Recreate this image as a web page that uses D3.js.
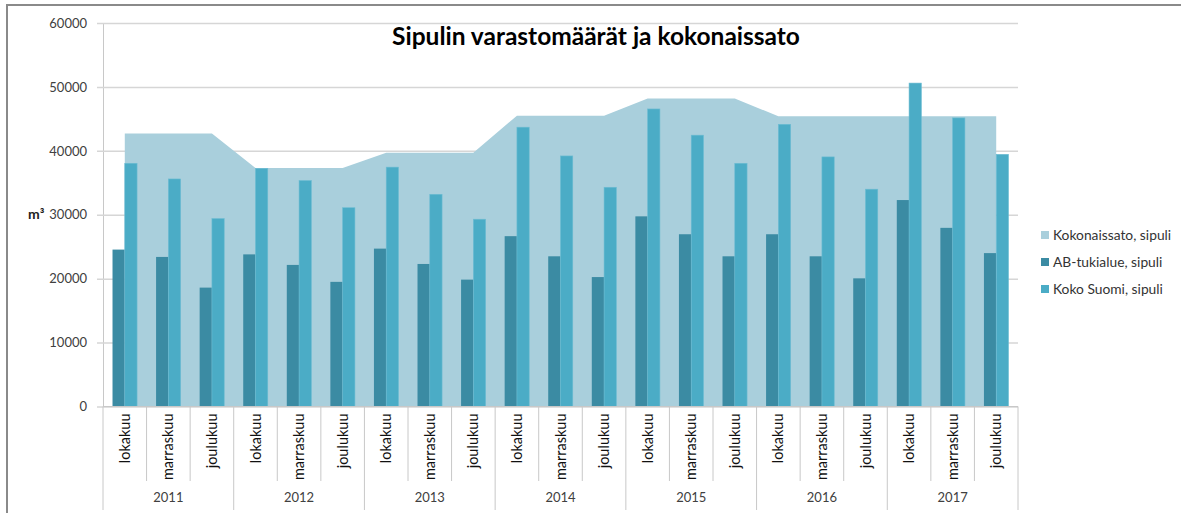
<!DOCTYPE html>
<html>
<head>
<meta charset="utf-8">
<script src="https://cdn.jsdelivr.net/npm/d3@7"></script>
<style>
  body { margin: 0; background: #fff; }
  text { font-family: Lato, "Open Sans", sans-serif; }
</style>
</head>
<body>
<div id="chart"></div>
<script>
// data
const years = ['2011', '2012', '2013', '2014', '2015', '2016', '2017'];
const months = ['lokakuu', 'marraskuu', 'joulukuu'];
const kokonaissato = [42700, 37300, 39700, 45500, 48200, 45400, 45400]; // one value per year
const abTukialue = [
  24550, 23400, 18600,
  23800, 22150, 19500,
  24700, 22300, 19850,
  26650, 23500, 20250,
  29750, 26950, 23500,
  26950, 23500, 20050,
  32300, 27950, 24000
];
const kokoSuomi = [
  38050, 35600, 29400,
  37250, 35350, 31100,
  37450, 33200, 29300,
  43700, 39200, 34300,
  46550, 42450, 38050,
  44150, 39050, 34000,
  50600, 45150, 39450
];
const yTicks = [0, 10000, 20000, 30000, 40000, 50000, 60000];
const seriesNames = ['Kokonaissato, sipuli', 'AB-tukialue, sipuli', 'Koko Suomi, sipuli'];
const colors = ['#a9cfdc', '#3b8ba3', '#4bacc6'];

document.addEventListener('DOMContentLoaded', () => {
    const W = 1181, H = 513;
    const left = 103, right = 1018, top = 23, bottom = 406.5;

    // one row per category (year + month)
    const rows = [];
    years.forEach((yr, i) => {
        months.forEach((m, j) => {
            const k = i * 3 + j;
            rows.push({ key: yr + '-' + m, year: yr, month: m, tot: kokonaissato[i], ab: abTukialue[k], koko: kokoSuomi[k] });
        });
    });

    const x = d3.scaleBand().domain(rows.map(d => d.key)).range([left, right]);
    const xSub = d3.scaleBand().domain(['ab', 'koko']).range([0, x.bandwidth()]).paddingOuter(0.775);
    const y = d3.scaleLinear().domain([0, 60000]).range([bottom, top]);

    const svg = d3.select('#chart').append('svg')
                  .attr('width', W)
                  .attr('height', H);

    // outer frame
    svg.append('rect')
       .attr('x', 7).attr('y', 5)
       .attr('width', 1300).attr('height', 700)
       .attr('fill', 'none')
       .attr('stroke', '#8a8a8a')
       .attr('stroke-width', 2);

    // y axis with gridlines
    const yAxis = svg.append('g')
       .attr('transform', `translate(${left},0)`)
       .call(d3.axisLeft(y).tickValues(yTicks).tickFormat(d3.format('d')).tickSizeOuter(0).tickPadding(10));
    yAxis.select('.domain').attr('stroke', '#c8c8c8');
    yAxis.selectAll('.tick line')
         .attr('x1', -6).attr('x2', right - left)
         .attr('stroke', '#d6d6d6').attr('stroke-width', 1.5);
    yAxis.selectAll('.tick text')
         .attr('font-size', 13).attr('fill', '#404040')
         .style('font-family', 'Lato, sans-serif');

    // area for Kokonaissato
    const area = d3.area()
        .x(d => x(d.key) + x.bandwidth() / 2)
        .y0(y(0))
        .y1(d => y(d.tot));
    svg.append('path')
       .datum(rows)
       .attr('d', area)
       .attr('fill', colors[0]);

    // bars
    const groups = svg.selectAll('g.cat')
       .data(rows).enter()
       .append('g')
       .attr('class', 'cat')
       .attr('transform', d => `translate(${x(d.key)},0)`);
    groups.append('rect')
       .attr('x', xSub('ab'))
       .attr('y', d => y(d.ab))
       .attr('width', xSub.bandwidth())
       .attr('height', d => y(0) - y(d.ab))
       .attr('fill', colors[1]);
    groups.append('rect')
       .attr('x', xSub('koko'))
       .attr('y', d => y(d.koko))
       .attr('width', xSub.bandwidth())
       .attr('height', d => y(0) - y(d.koko))
       .attr('fill', colors[2])
       .attr('stroke', '#6cbcd2')
       .attr('stroke-width', 0.6);

    // x axis: line, month separators, year separators
    const xg = svg.append('g');
    xg.append('line')
      .attr('x1', left).attr('x2', right)
      .attr('y1', bottom).attr('y2', bottom)
      .attr('stroke', '#c8c8c8').attr('stroke-width', 1.2);
    rows.forEach((d, i) => {
        const xx = x(d.key);
        xg.append('line')
          .attr('x1', xx).attr('x2', xx)
          .attr('y1', bottom).attr('y2', i % 3 === 0 ? 510 : 481)
          .attr('stroke', '#c8c8c8');
    });
    xg.append('line')
      .attr('x1', right).attr('x2', right)
      .attr('y1', bottom).attr('y2', 510)
      .attr('stroke', '#c8c8c8');

    xg.selectAll('text.month')
      .data(rows).enter()
      .append('text')
      .attr('class', 'month')
      .attr('transform', d => `translate(${x(d.key) + x.bandwidth() / 2 + 5},${bottom + 7}) rotate(-90)`)
      .attr('text-anchor', 'end')
      .attr('font-size', 14.5)
      .attr('fill', '#111')
      .text(d => d.month);

    xg.selectAll('text.year')
      .data(years).enter()
      .append('text')
      .attr('class', 'year')
      .attr('x', (d, i) => (x(rows[i * 3].key) + x(rows[i * 3 + 2].key) + x.bandwidth()) / 2)
      .attr('y', 502)
      .attr('text-anchor', 'middle')
      .attr('font-size', 13)
      .attr('fill', '#404040')
      .text(d => d);

    // y axis unit
    svg.append('text')
       .attr('x', 28).attr('y', 219)
       .attr('font-size', 14)
       .attr('font-weight', 'bold')
       .attr('fill', '#222')
       .text('m³');

    // title
    svg.append('text')
       .attr('x', 596).attr('y', 45)
       .attr('text-anchor', 'middle')
       .attr('font-size', 24.5)
       .attr('font-weight', 'bold')
       .attr('fill', '#000')
       .text('Sipulin varastomäärät ja kokonaissato');

    // legend
    const leg = svg.append('g')
       .attr('transform', 'translate(1041,235)');
    seriesNames.forEach((name, i) => {
        const row = leg.append('g').attr('transform', `translate(0,${i * 27})`);
        row.append('rect')
           .attr('x', 0).attr('y', -4)
           .attr('width', 8).attr('height', 8)
           .attr('fill', colors[i]);
        row.append('text')
           .attr('x', 12).attr('y', 5)
           .attr('font-size', 13.8)
           .attr('fill', '#333')
           .text(name);
    });
});
</script>
</body>
</html>
